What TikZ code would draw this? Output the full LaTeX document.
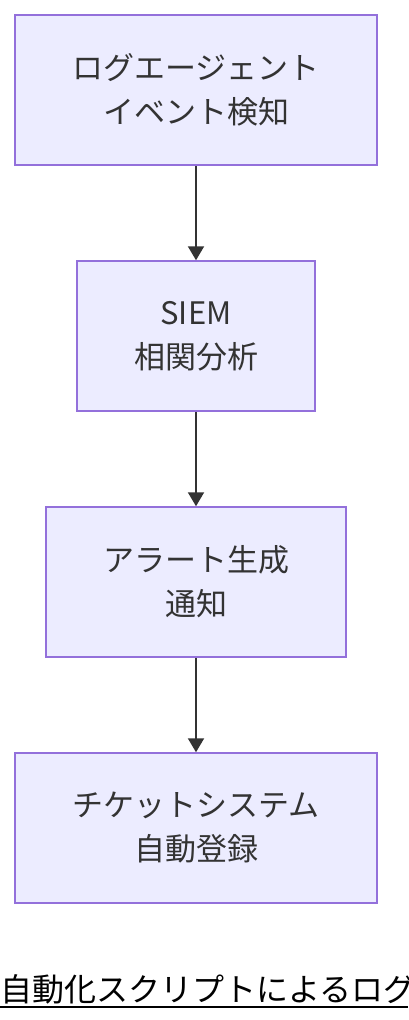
\documentclass[tikz,border=0pt]{standalone}
\usepackage{fontspec}
\setmainfont{Noto Sans CJK JP}
\usepackage{tikz}
\usetikzlibrary{arrows.meta}
\definecolor{boxfill}{HTML}{ECECFF}
\definecolor{boxline}{HTML}{9370DB}
\definecolor{textgray}{HTML}{333333}

\begin{document}
\begin{tikzpicture}[
		x=1pt,y=-1pt,
		stage/.style={rectangle,draw=boxline,fill=boxfill,line width=1.5pt,
			minimum height=150pt,align=center,text=textgray,
			font=\fontsize{31}{44}\selectfont,inner sep=0pt},
		flow/.style={draw=textgray,line width=2pt,-{Triangle[length=14pt,width=16pt]}}]
		\useasboundingbox (0,0) rectangle (408,1020);
		\node[stage,minimum width=362pt] (agent) at (196,90) {ログエージェント\\イベント検知};
		\node[stage,minimum width=238pt] (siem) at (196,336) {SIEM\\相関分析};
		\node[stage,minimum width=300pt] (alert) at (196,582) {アラート生成\\通知};
		\node[stage,minimum width=362pt] (ticket) at (196,828) {チケットシステム\\自動登録};
		\draw[flow] (agent) -- (siem);
		\draw[flow] (siem) -- (alert);
		\draw[flow] (alert) -- (ticket);
		\node[anchor=base west,inner sep=0pt,font=\fontsize{32}{36}\selectfont] (title) at (0,1001) {自動化スクリプトによるログ};
		\draw[line width=2pt] (0,1007) -- (408,1007);
\end{tikzpicture}
\end{document}
